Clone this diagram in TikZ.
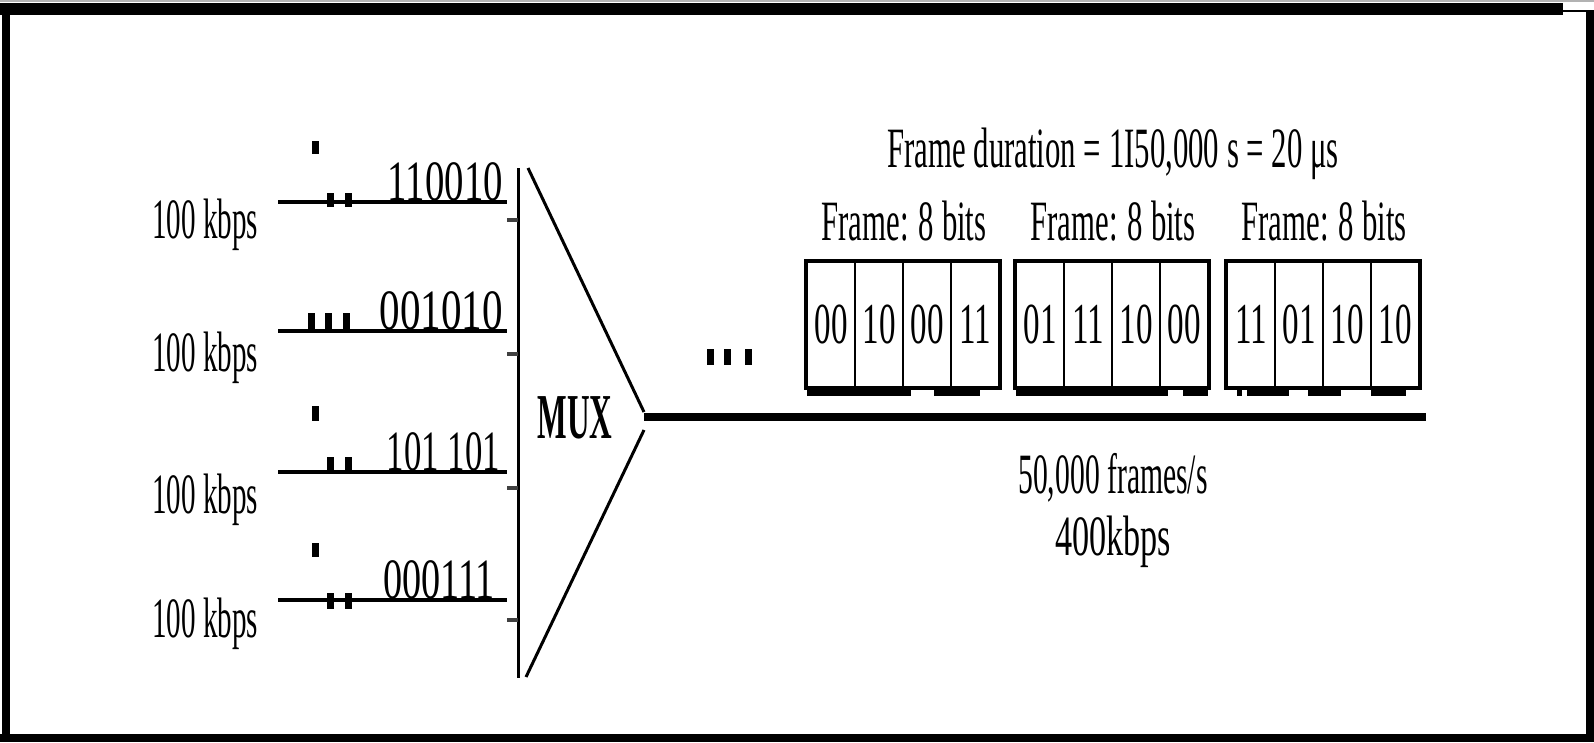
\documentclass[tikz,border=0pt]{standalone}
\usepackage{fontspec}
\setmainfont{Liberation Serif}
\usepackage{graphicx}
\usetikzlibrary{positioning,calc}
\newcommand{\sqz}[2][0.51]{\scalebox{#1}[1]{#2}}

\begin{document}
\begin{tikzpicture}[x=1pt,y=-1pt,
  txt/.style={inner sep=0pt,font=\fontsize{57}{60}\selectfont},
  wire/.style={line width=3.5pt},
  cell/.style={draw,line width=2pt,minimum width=48pt,minimum height=125pt,
    inner sep=0pt,font=\fontsize{58}{60}\selectfont}]
  \useasboundingbox (0,0) rectangle (1594,742);
  % border
  \fill[black!30] (0,0) rectangle (1594,2);
  \fill (0,3) rectangle (1563,15);
  \fill (1563,10) rectangle (1594,12);
  \fill (1586,10) rectangle (1594,742);
  \fill (2,3) rectangle (10,742);
  \fill (0,734) rectangle (1594,742);

  % input channels
  \foreach \k/\y/\ly/\bits/\sc/\bx in {1/202/238/110010/0.68/503,
      2/331/371/001010/0.72/503, 3/472/513/{101 101}/0.61/500,
      4/600/637/000111/0.67/495} {
    \coordinate (in\k) at (278,\y);
    \coordinate (end\k) at (507,\y);
    \draw[wire] (in\k) -- (end\k);
    \node[txt,anchor=base west] (rate\k) at (152,\ly) {\sqz{100 kbps}};
    \node[txt,anchor=base east] (bits\k) at (\bx,\y-2) {\sqz[\sc]{\bits}};
  }
  \foreach \x/\ya/\yb in {330.5/193/207, 348/193/207, 311/313/331, 328/313/331,
      346/313/331, 330.5/457/472, 348/457/472, 330.5/593/609, 348/593/609,
      315/141/154, 315/406/421, 315/543/557}
    \fill (\x-3.5,\ya) rectangle (\x+3.5,\yb);

  % multiplexer
  \coordinate (mtop) at (518,168);
  \coordinate (mbot) at (518,678);
  \coordinate (tipa) at (644,412);
  \coordinate (tipb) at (644,430);
  \draw[line width=3pt] (mtop) -- (mbot);
  \draw[line width=3pt] (528,168) -- (tipa);
  \draw[line width=3pt] (tipb) -- (526,677);
  \foreach \y in {220,354,488,620}
    \draw[line width=4pt,black!75] (507,\y) -- (518,\y);
  \node[inner sep=0pt,font=\fontsize{64}{66}\selectfont\bfseries] (mux) at (575,418)
    {\sqz[0.49]{MUX}};

  % output link
  \coordinate (tip) at (644,417);
  \coordinate (lineend) at (1426,417);
  \draw[line width=8pt] (tip) -- (lineend);
  \foreach \x in {710,727,748}
    \fill (\x-3.5,349) rectangle (\x+3.5,365);

  % frames
  \foreach \f/\x/\cells in {1/807/{00,10,00,11},2/1016/{01,11,10,00},3/1227/{11,01,10,10}} {
    \foreach \v [count=\k] in \cells
      \node[cell] (f\f-\k) at (\x+48*\k-24,324.5) {\sqz[0.57]{\v}};
    \draw[line width=3.5pt] (f\f-1.north west) rectangle (f\f-4.south east);
    \node[txt,above=19pt of f\f-2.north east] (flab\f) {\sqz[0.54]{Frame: 8 bits}};
  }
  \foreach \a/\b in {807/911, 934/980, 1016/1168, 1183/1208, 1237/1242,
      1247/1289, 1308/1341, 1371/1406}
    \fill (\a,388) rectangle (\b,396);

  \node[txt,anchor=base] (dur) at (1113,167)
    {\sqz[0.54]{Frame duration = 1I50,000 s = 20 μs}};
  \node[txt,anchor=base] (fps) at (1113,493) {\sqz[0.52]{50,000 frames/s}};
  \node[txt,anchor=base] (kbps) at (1113,555) {\sqz[0.6]{400kbps}};
\end{tikzpicture}
\end{document}
